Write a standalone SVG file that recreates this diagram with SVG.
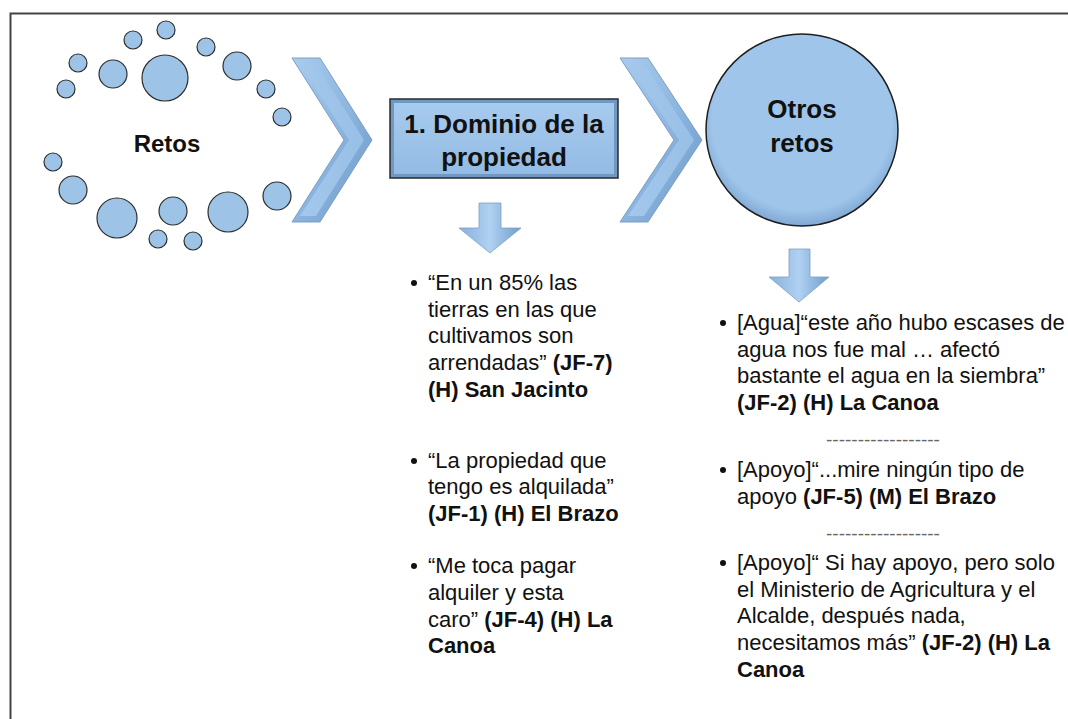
<svg xmlns="http://www.w3.org/2000/svg" width="1068" height="719" viewBox="0 0 1068 719">
<defs>
<linearGradient id="chev" x1="0" y1="0" x2="1" y2="1">
<stop offset="0" stop-color="#a9cbee"/>
<stop offset="0.5" stop-color="#8db6e0"/>
<stop offset="1" stop-color="#6b97c6"/>
</linearGradient>
<linearGradient id="chevi" x1="0" y1="0" x2="1" y2="0">
<stop offset="0" stop-color="#a4c8ec"/>
<stop offset="1" stop-color="#98bfe6"/>
</linearGradient>
<linearGradient id="boxg" x1="0" y1="0" x2="0" y2="1">
<stop offset="0" stop-color="#a7cbee"/>
<stop offset="1" stop-color="#93bbe4"/>
</linearGradient>
<radialGradient id="ballg" cx="0.5" cy="0.45" r="0.55">
<stop offset="0.85" stop-color="#9fc5ea"/>
<stop offset="1" stop-color="#7fa8d3"/>
</radialGradient>
<linearGradient id="arrg" x1="0" y1="0" x2="1" y2="0">
<stop offset="0" stop-color="#86b0dc"/>
<stop offset="0.5" stop-color="#b0d1f1"/>
<stop offset="1" stop-color="#6f9dcd"/>
</linearGradient>
</defs>
<style>
.dot{fill:#9dc3e6;stroke:#2e2e2e;stroke-width:1.2}
.chev{fill:url(#chev);stroke:#7d9fc2;stroke-width:1}
.chevin{fill:url(#chevi);stroke:none}
.arr{fill:url(#arrg);stroke:#7d9fc2;stroke-width:0.8}
.t{font-family:"Liberation Sans",Arial,sans-serif;font-size:22px;fill:#111}
.b{font-weight:bold}
.h{font-family:"Liberation Sans",Arial,sans-serif;font-weight:bold;fill:#111;text-anchor:middle}
.dash{font-family:"Liberation Sans",Arial,sans-serif;font-size:19px;fill:#666;text-anchor:middle}
</style>
<rect width="1068" height="719" fill="#ffffff"/>
<path d="M10.5,719 L10.5,13.5 L1068,13.5" fill="none" stroke="#444" stroke-width="2"/>

<g id="retos">
<circle class="dot" cx="166" cy="30" r="9"/>
<circle class="dot" cx="133" cy="40" r="9"/>
<circle class="dot" cx="206" cy="47" r="9"/>
<circle class="dot" cx="78" cy="63" r="9"/>
<circle class="dot" cx="113" cy="74" r="14"/>
<circle class="dot" cx="165" cy="78" r="23"/>
<circle class="dot" cx="237" cy="66" r="14"/>
<circle class="dot" cx="66" cy="89" r="9"/>
<circle class="dot" cx="266" cy="89" r="9"/>
<circle class="dot" cx="282" cy="117" r="9"/>
<circle class="dot" cx="53" cy="162" r="9"/>
<circle class="dot" cx="73" cy="190" r="14"/>
<circle class="dot" cx="117" cy="218" r="20"/>
<circle class="dot" cx="173" cy="211" r="14"/>
<circle class="dot" cx="228" cy="212" r="20"/>
<circle class="dot" cx="277" cy="196" r="14"/>
<circle class="dot" cx="158" cy="239" r="9"/>
<circle class="dot" cx="193" cy="241" r="9"/>
<text class="h" x="167" y="152" font-size="24">Retos</text>
</g>

<g id="dominio">
<rect x="390" y="99" width="228" height="79" fill="#6f98c2" stroke="#2a2a2a" stroke-width="1.5"/>
<rect x="394" y="103" width="220" height="71" fill="url(#boxg)"/>
<text class="h" x="504" y="133" font-size="26">1. Dominio de la</text>
<text class="h" x="504" y="166" font-size="26">propiedad</text>
</g>

<g id="otros">
<circle cx="802" cy="130" r="96" fill="url(#ballg)" stroke="#1e1e1e" stroke-width="1.5"/>
<text class="h" x="802" y="118" font-size="26">Otros</text>
<text class="h" x="802" y="152" font-size="26">retos</text>
</g>

<g id="connectors">
<polygon class="chev" points="292,58 320,58 372,140 320,222 292,222 344,140"/>
<polygon class="chevin" points="300,64 316,64 364,140 316,216 300,216 349,140"/>
<polygon class="chev" points="620,58 648,58 702,140 648,222 620,222 674,140"/>
<polygon class="chevin" points="628,64 644,64 694,140 644,216 628,216 679,140"/>
<polygon class="arr" points="479,203 501,203 501,228 521,228 490,253 459,228 479,228"/>
<polygon class="arr" points="789,249 810,249 810,277 829,277 799,302 769,277 789,277"/>
</g>

<g id="lista-dominio">
<circle cx="414" cy="283" r="3" fill="#111"/>
<text class="t" x="428" y="290">“En un 85% las</text>
<text class="t" x="428" y="317">tierras en las que</text>
<text class="t" x="428" y="343">cultivamos son</text>
<text class="t" x="428" y="370">arrendadas” <tspan class="b">(JF-7)</tspan></text>
<text class="t b" x="428" y="397">(H) San Jacinto</text>
<circle cx="414" cy="461" r="3" fill="#111"/>
<text class="t" x="428" y="468">“La propiedad que</text>
<text class="t" x="428" y="494">tengo es alquilada”</text>
<text class="t b" x="428" y="521">(JF-1) (H) El Brazo</text>
<circle cx="414" cy="566" r="3" fill="#111"/>
<text class="t" x="428" y="573">“Me toca pagar</text>
<text class="t" x="428" y="600">alquiler y esta</text>
<text class="t" x="428" y="627">caro” <tspan class="b">(JF-4) (H) La</tspan></text>
<text class="t b" x="428" y="653">Canoa</text>
</g>

<g id="lista-otros">
<circle cx="723" cy="323" r="3" fill="#111"/>
<text class="t" x="737" y="330">[Agua]“este año hubo escases de</text>
<text class="t" x="737" y="357">agua nos fue mal … afectó</text>
<text class="t" x="737" y="383">bastante el agua en la siembra”</text>
<text class="t b" x="737" y="410">(JF-2) (H) La Canoa</text>
<text class="dash" x="883" y="446">------------------</text>
<circle cx="723" cy="470" r="3" fill="#111"/>
<text class="t" x="737" y="477">[Apoyo]“...mire ningún tipo de</text>
<text class="t" x="737" y="504">apoyo <tspan class="b">(JF-5) (M) El Brazo</tspan></text>
<text class="dash" x="883" y="540">------------------</text>
<circle cx="723" cy="563" r="3" fill="#111"/>
<text class="t" x="737" y="570">[Apoyo]“ Si hay apoyo, pero solo</text>
<text class="t" x="737" y="597">el Ministerio de Agricultura y el</text>
<text class="t" x="737" y="623">Alcalde, después nada,</text>
<text class="t" x="737" y="650">necesitamos más” <tspan class="b">(JF-2) (H) La</tspan></text>
<text class="t b" x="737" y="677">Canoa</text>
</g>
</svg>
